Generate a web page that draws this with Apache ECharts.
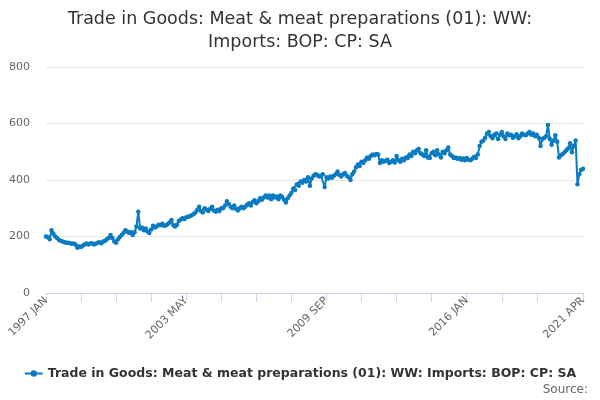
<!DOCTYPE html>
<html lang="en">
    <head>
        <meta charset="UTF-8">
        <title>Trade in Goods: Meat & meat preparations</title>
        <script src="https://cdn.jsdelivr.net/npm/echarts@6/dist/echarts.min.js"></script>
        <style>
            html, body { margin: 0; padding: 0; background: #fff; }
        </style>
    </head>
    <body>
        <div id="main" style="width: 600px;height:400px;"></div>
        <script>
            var seriesName = 'Trade in Goods: Meat & meat preparations (01): WW: Imports: BOP: CP: SA';
            var monthNames = ['JAN','FEB','MAR','APR','MAY','JUN','JUL','AUG','SEP','OCT','NOV','DEC'];
            var firstYear = 1997;
            var yTicks = [0, 200, 400, 600, 800];

            // monthly values, one row per year (1997 JAN .. 2021 APR)
            var values = [
                200, 197, 190, 222, 210, 200, 195, 188, 185, 182, 180, 178,
                178, 176, 174, 175, 172, 160, 165, 163, 168, 172, 175, 172,
                175, 176, 172, 174, 178, 180, 176, 182, 185, 190, 195, 205,
                195, 182, 178, 190, 198, 205, 212, 222, 218, 212, 216, 205,
                215, 235, 288, 228, 232, 222, 228, 218, 212, 225, 238, 232,
                235, 242, 240, 245, 238, 240, 244, 250, 258, 240, 235, 242,
                255, 260, 265, 262, 268, 270, 272, 275, 280, 285, 295, 305,
                290, 285, 300, 295, 290, 298, 305, 292, 288, 295, 290, 300,
                300, 310, 325, 315, 305, 300, 310, 298, 292, 300, 305, 300,
                305, 312, 318, 310, 322, 328, 318, 325, 335, 330, 338, 345,
                338, 345, 332, 345, 338, 342, 332, 345, 340, 330, 320, 335,
                345, 355, 370, 365, 385, 380, 395, 390, 400, 395, 410, 380,
                405, 415, 420, 418, 412, 415, 420, 375, 410, 405, 412, 408,
                415, 420, 430, 418, 412, 420, 425, 415, 410, 400, 420, 430,
                445, 455, 450, 465, 460, 470, 480, 475, 485, 490, 488, 492,
                490, 460, 470, 465, 468, 472, 460, 465, 470, 462, 485, 470,
                465, 475, 470, 480, 478, 490, 485, 500, 495, 505, 510, 495,
                490, 485, 505, 480, 478, 495, 500, 488, 505, 490, 480, 500,
                495, 505, 515, 490, 485, 478, 480, 475, 478, 472, 476, 470,
                478, 472, 470, 475, 482, 478, 490, 520, 535, 540, 550, 565,
                570, 555, 548, 560, 565, 545, 560, 570, 555, 545, 565, 558,
                560, 550, 555, 562, 548, 555, 565, 560, 558, 565, 570, 560,
                565, 555, 560, 550, 520, 545, 550, 555, 595, 545, 525, 540,
                558, 535, 480, 488, 492, 498, 505, 512, 530, 498, 520, 540,
                385, 420, 435, 440
            ];

            // month labels like "1997 JAN"
            var months = [];
            for (var i = 0; i < values.length; i++) {
                months.push((firstYear + Math.floor(i / 12)) + ' ' + monthNames[i % 12]);
            }
            var last = months.length - 1;

            var myChart = echarts.init(document.getElementById('main'));

            var option = {
                animation: false,
                title: {
                    text: 'Trade in Goods: Meat & meat preparations (01): WW:\nImports: BOP: CP: SA',
                    left: 'center',
                    top: 3,
                    textStyle: {
                        fontFamily: 'DejaVu Sans',
                        fontSize: 17.5,
                        fontWeight: 'normal',
                        color: '#333333',
                        lineHeight: 23
                    }
                },
                graphic: [{
                    type: 'text',
                    right: 12,
                    top: 384,
                    style: {
                        text: 'Source:',
                        fontFamily: 'DejaVu Sans',
                        fontSize: 12,
                        fill: '#666666'
                    }
                }],
                legend: {
                    bottom: 15,
                    left: 'center',
                    itemWidth: 18,
                    itemHeight: 8,
                    itemGap: 4,
                    textStyle: {
                        fontFamily: 'DejaVu Sans',
                        fontSize: 12.5,
                        fontWeight: 'bold',
                        color: '#333333'
                    },
                    data: [seriesName]
                },
                grid: {
                    left: 46,
                    right: 17,
                    top: 67,
                    bottom: 107,
                    containLabel: false
                },
                xAxis: {
                    type: 'category',
                    boundaryGap: false,
                    data: months,
                    axisLine: { lineStyle: { color: '#ccd6eb' } },
                    axisTick: {
                        length: 9,
                        lineStyle: { color: '#ccd6eb' },
                        interval: function (idx) {
                            return (idx % 19 === 0 && idx < 280) || idx === last;
                        }
                    },
                    axisLabel: {
                        rotate: 45,
                        color: '#666666',
                        fontFamily: 'DejaVu Sans',
                        fontSize: 11,
                        margin: 6,
                        interval: function (idx) {
                            return idx % 76 === 0 || idx === last;
                        }
                    },
                    splitLine: { show: false }
                },
                yAxis: {
                    type: 'value',
                    min: yTicks[0],
                    max: yTicks[yTicks.length - 1],
                    interval: 200,
                    axisLine: { show: false },
                    axisTick: { show: false },
                    axisLabel: {
                        color: '#666666',
                        fontFamily: 'DejaVu Sans',
                        fontSize: 11,
                        margin: 16
                    },
                    splitLine: { lineStyle: { color: '#e6e6e6' } }
                },
                series: [{
                    name: seriesName,
                    type: 'line',
                    data: values,
                    color: '#0a7bc1',
                    symbol: 'circle',
                    symbolSize: 4.5,
                    showAllSymbol: true,
                    lineStyle: { width: 2, color: '#0a7bc1' },
                    itemStyle: { color: '#0a7bc1' }
                }]
            };

            myChart.setOption(option);
        </script>
    </body>
</html>
